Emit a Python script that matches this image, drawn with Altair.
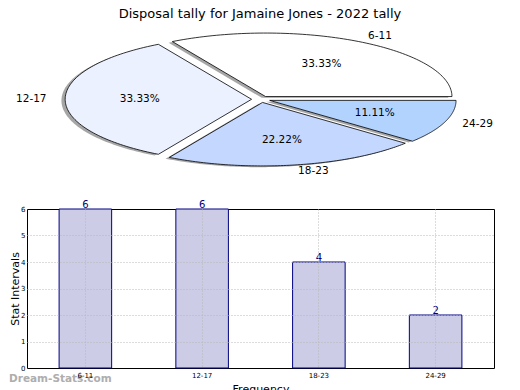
import altair as alt
import pandas as pd

title_text = "Disposal tally for Jamaine Jones - 2022 tally"
categories = ["6-11", "12-17", "18-23", "24-29"]
counts = [6, 6, 4, 2]
slice_colors = ["#ffffff", "#ebf1ff", "#c4d7ff", "#b3d3ff"]
explode = [0.05, 0.05, 0.05, 0.05]
y_ticks = [0, 1, 2, 3, 4, 5, 6]
watermark = ["Dream-Stats.com"]

FONT = "DejaVu Sans"
N = 90  # arc resolution

df = pd.DataFrame({"cat": categories, "n": counts, "idx": list(range(len(categories))), "ex": explode})

# ---------------- pie (elliptical, drawn through linear x/y scales) -------------
PIE_W, PIE_H = 466, 155
xs = alt.Scale(domain=[-1, 1], range=[47.5, 420.3], nice=False, zero=False)
ys = alt.Scale(domain=[-1, 1], range=[138.8, 11.8], nice=False, zero=False)

base = (
    alt.Chart(df)
    .transform_joinaggregate(total="sum(n)")
    .transform_window(cum="sum(n)", sort=[alt.SortField("idx")], frame=[None, 0])
    .transform_calculate(
        a0="2*PI*(datum.cum - datum.n)/datum.total",
        a1="2*PI*datum.cum/datum.total",
    )
    .transform_calculate(mid="(datum.a0 + datum.a1)/2")
    .transform_calculate(
        ox="datum.ex*cos(datum.mid)",
        oy="datum.ex*sin(datum.mid)",
        pct="format(datum.n/datum.total, '.2%')",
    )
)

poly = (
    base.transform_calculate(k=f"sequence(-1, {N + 2})")
    .transform_flatten(["k"])
    .transform_calculate(
        th=f"datum.a0 + (datum.a1 - datum.a0)*clamp(datum.k, 0, {N})/{N}",
        r=f"(datum.k < 0 || datum.k > {N}) ? 0 : 1",
    )
    .transform_calculate(
        u="datum.ox + datum.r*cos(datum.th)",
        v="datum.oy + datum.r*sin(datum.th)",
        su="datum.ox + datum.r*cos(datum.th) - 0.02",
        sv="datum.oy + datum.r*sin(datum.th) - 0.02",
    )
)

shadow = poly.mark_line(filled=True, fill="#4d4d4d", fillOpacity=0.5, strokeWidth=0).encode(
    x=alt.X("su:Q", scale=xs, axis=None),
    y=alt.Y("sv:Q", scale=ys, axis=None),
    order="k:Q",
    detail="cat:N",
)

wedges = poly.mark_line(filled=True, stroke="#000000", strokeWidth=0.8, strokeJoin="miter").encode(
    x=alt.X("u:Q", scale=xs, axis=None),
    y=alt.Y("v:Q", scale=ys, axis=None),
    order="k:Q",
    detail="cat:N",
    color=alt.Color("cat:N", scale=alt.Scale(domain=categories, range=slice_colors), legend=None),
)

labs = base.transform_calculate(
    lu="datum.ox + 1.1*cos(datum.mid)",
    lv="datum.oy + 1.1*sin(datum.mid)",
    pu="datum.ox + 0.6*cos(datum.mid)",
    pv="datum.oy + 0.6*sin(datum.mid)",
    c="cos(datum.mid)",
)

lab_left = labs.transform_filter("datum.c > 0").mark_text(
    align="left", baseline="middle", fontSize=10.5, font=FONT, color="#000000"
).encode(x=alt.X("lu:Q", scale=xs, axis=None), y=alt.Y("lv:Q", scale=ys, axis=None), text="cat:N")

lab_right = labs.transform_filter("datum.c <= 0").mark_text(
    align="right", baseline="middle", fontSize=10.5, font=FONT, color="#000000"
).encode(x=alt.X("lu:Q", scale=xs, axis=None), y=alt.Y("lv:Q", scale=ys, axis=None), text="cat:N")

pct = labs.mark_text(
    align="center", baseline="middle", fontSize=10.5, font=FONT, color="#000000"
).encode(x=alt.X("pu:Q", scale=xs, axis=None), y=alt.Y("pv:Q", scale=ys, axis=None), text="pct:N")

pie = alt.layer(shadow, wedges, lab_left, lab_right, pct).properties(
    width=PIE_W,
    height=PIE_H,
    title=alt.TitleParams(title_text, fontSize=13, font=FONT, fontWeight="normal", anchor="middle", offset=3),
    view=alt.ViewBackground(stroke=None),
)

# ---------------- bar chart -------------
BAR_W, BAR_H = 467, 159
bdf = pd.DataFrame({"cat": categories, "n": counts})

x_axis = alt.Axis(
    title="Frequency", labelAngle=0, labelFontSize=7, labelFont=FONT, labelColor="#000",
    titleFontSize=11, titleFont=FONT, titleFontWeight="normal", titleColor="#000", titlePadding=5,
    grid=True, gridDash=[1, 2], gridColor="#b8b8b8", bandPosition=0.5,
    ticks=False, domain=False, labelPadding=3, zindex=1,
)
y_axis = alt.Axis(
    title="Stat Intervals", values=y_ticks, labelFontSize=7, labelFont=FONT, labelColor="#000",
    titleFontSize=11, titleFont=FONT, titleFontWeight="normal", titleColor="#000", titlePadding=0,
    grid=True, gridDash=[1, 2], gridColor="#b8b8b8",
    gridOpacity=alt.condition("datum.value == 0 || datum.value == 6", alt.value(0), alt.value(1)),
    ticks=False, domain=False, labelPadding=2, zindex=1, labelOverlap=False,
)
x_scale = alt.Scale(paddingInner=0.55, paddingOuter=0.275)
y_scale = alt.Scale(domain=[0, 6], nice=False)

bars = alt.Chart(bdf).mark_bar(fill="#ccccE6", stroke="#000080", strokeWidth=1).encode(
    x=alt.X("cat:N", sort=categories, scale=x_scale, axis=x_axis),
    y=alt.Y("n:Q", scale=y_scale, axis=y_axis),
)
vals = alt.Chart(bdf).mark_text(baseline="bottom", fontSize=10, font=FONT, color="#000080", dy=1).encode(
    x=alt.X("cat:N", sort=categories, scale=x_scale, axis=x_axis),
    y=alt.Y("n:Q", scale=y_scale, axis=y_axis),
    text="n:Q",
)
wm = alt.Chart(pd.DataFrame({"w": watermark})).mark_text(
    align="left", baseline="middle", fontSize=10.5, fontWeight="bold", font=FONT, color="#a0a0a0", opacity=0.85
).encode(text="w:N", x=alt.value(-18), y=alt.value(BAR_H + 11))

barchart = alt.layer(bars, vals, wm).properties(
    width=BAR_W, height=BAR_H, view=alt.ViewBackground(stroke="#000000", strokeWidth=1)
)

chart = alt.vconcat(pie, barchart, spacing=20).properties(padding=0).configure(font=FONT)

chart.save("out.html", embed_options={"renderer": "svg", "actions": False})
